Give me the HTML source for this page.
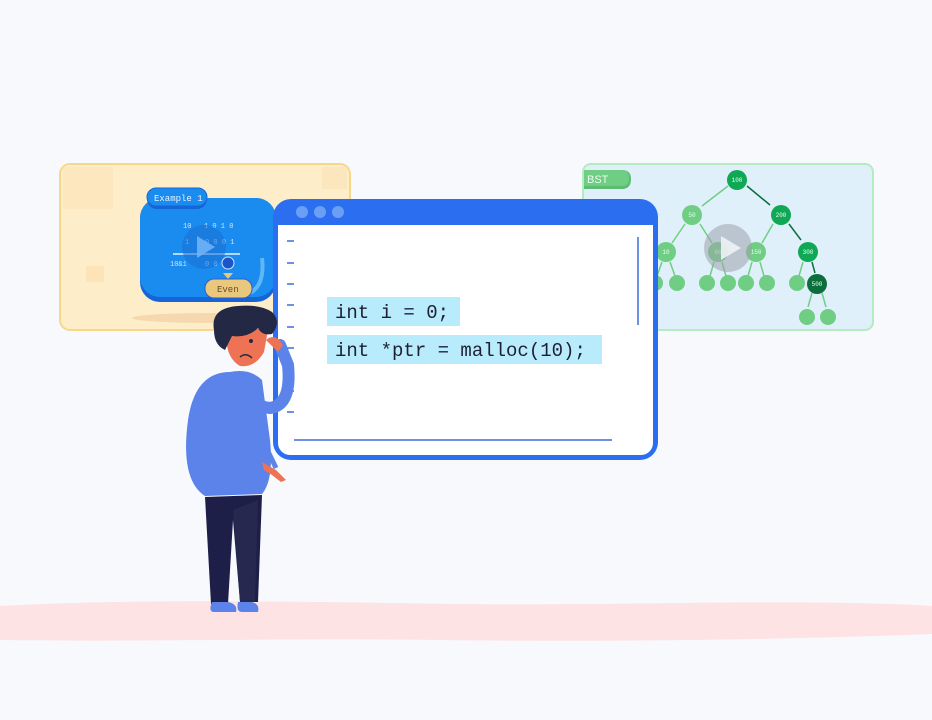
<!DOCTYPE html>
<html><head><style>
html,body{margin:0;padding:0;background:#f7f9fd;}
svg{display:block}
</style></head><body>
<svg width="932" height="720" viewBox="0 0 932 720" xmlns="http://www.w3.org/2000/svg" font-family="Liberation Mono, monospace">
<rect width="932" height="720" fill="#f7f9fd"/>
<!-- floor -->
<path d="M0 606 C150 598 300 602 460 604 C620 606 800 598 932 606 L932 634 C780 640 600 642 440 640 C280 638 130 642 0 640 Z" fill="#fde3e3"/>

<!-- left card -->
<rect x="60" y="164" width="290" height="166" rx="10" fill="#fdeec9" stroke="#f7d88a" stroke-width="2"/>
<rect x="63" y="167" width="50" height="42" fill="#fbe3b8" opacity="0.6"/>
<rect x="86" y="266" width="18" height="16" fill="#fbe0b0" opacity="0.7"/>
<rect x="322" y="167" width="25" height="22" fill="#fbe3b8" opacity="0.7"/>
<ellipse cx="210" cy="318" rx="78" ry="5" fill="#f5d8ad"/>
<rect x="140" y="198" width="136" height="104" rx="20" fill="#1565d8"/>
<rect x="140" y="198" width="136" height="99" rx="20" fill="#1a8cf0"/>
<path d="M262 258 Q265 285 250 293" stroke="#5fb8f5" stroke-width="4" fill="none"/>
<rect x="147" y="188" width="60" height="21" rx="10" fill="#1565d8"/>
<rect x="147" y="188" width="60" height="18" rx="9" fill="#1a8cf0" stroke="#1565d8" stroke-width="1"/>
<text x="154" y="201" font-size="9" fill="#e8f2ff">Example 1</text>
<g font-size="7" fill="#cfe5ff">
<text x="183" y="228">10</text><text x="204" y="228">1 0 1 0</text>
<text x="185" y="244">1</text><text x="205" y="244">0 0 0 1</text>
<text x="170" y="266">10&amp;1</text><text x="205" y="266">0 0 0</text>
</g>
<line x1="173" y1="254" x2="240" y2="254" stroke="#e6f2ff" stroke-width="1.5"/>
<circle cx="228" cy="263" r="6" fill="#1a56c8" stroke="#cfe5ff" stroke-width="1"/>
<circle cx="204" cy="247" r="22" fill="#1a6fd0" opacity="0.55"/>
<path d="M197 236 L197 258 L215 247 Z" fill="#6fb3f7" opacity="0.9"/>
<path d="M223 273 L228 279 L233 273 Z" fill="#e9c77c"/>
<rect x="205" y="279" width="47" height="19" rx="9" fill="#e9c77c" stroke="#2a5fd0" stroke-width="1"/>
<text x="217" y="292" font-size="9" fill="#6b4a2a">Even</text>

<!-- right card -->
<rect x="583" y="164" width="290" height="166" rx="8" fill="#dff0fb" stroke="#b5ebc0" stroke-width="2"/>
<path d="M584 170 L622 170 Q631 170 631 179 Q631 189 622 189 L584 189 Z" fill="#5cbc72"/>
<path d="M584 170 L622 170 Q629 170 629 178 Q629 186 622 186 L584 186 Z" fill="#6fce83"/>
<text x="587" y="183" font-size="11" font-family="Liberation Sans, sans-serif" fill="#eaffef">BST</text>
<g stroke="#6fce83" stroke-width="1.5" fill="none">
<line x1="728" y1="186" x2="702" y2="206"/>
<line x1="685" y1="224" x2="672" y2="243"/><line x1="700" y1="224" x2="712" y2="243"/>
<line x1="773" y1="224" x2="762" y2="243"/>
<line x1="662" y1="262" x2="657" y2="276"/><line x1="670" y1="262" x2="675" y2="276"/>
<line x1="714" y1="262" x2="710" y2="276"/><line x1="722" y1="262" x2="726" y2="276"/>
<line x1="752" y1="262" x2="748" y2="276"/><line x1="760" y1="262" x2="764" y2="276"/>
<line x1="803" y1="262" x2="799" y2="276"/>
<line x1="812" y1="293" x2="808" y2="307"/><line x1="822" y1="293" x2="826" y2="307"/>
</g>
<g stroke="#0c6e3a" stroke-width="1.5">
<line x1="747" y1="186" x2="770" y2="205"/><line x1="789" y1="224" x2="801" y2="240"/><line x1="812" y1="262" x2="815" y2="273"/>
</g>
<g fill="#6fce83">
<circle cx="692" cy="215" r="10"/><circle cx="666" cy="252" r="10"/><circle cx="718" cy="252" r="10"/><circle cx="756" cy="252" r="10"/>
<circle cx="655" cy="283" r="8"/><circle cx="677" cy="283" r="8"/><circle cx="707" cy="283" r="8"/><circle cx="728" cy="283" r="8"/>
<circle cx="746" cy="283" r="8"/><circle cx="767" cy="283" r="8"/><circle cx="797" cy="283" r="8"/>
<circle cx="807" cy="317" r="8"/><circle cx="828" cy="317" r="8"/>
</g>
<g fill="#0fa854"><circle cx="737" cy="180" r="10"/><circle cx="781" cy="215" r="10"/><circle cx="808" cy="252" r="10"/></g>
<circle cx="817" cy="284" r="10" fill="#0c6e3a"/>
<g font-size="6" fill="#e6fff0" text-anchor="middle">
<text x="737" y="182">100</text><text x="692" y="217">50</text><text x="781" y="217">200</text>
<text x="666" y="254">10</text><text x="718" y="254">60</text><text x="756" y="254">150</text><text x="808" y="254">300</text><text x="817" y="286">500</text>
</g>
<circle cx="728" cy="248" r="24" fill="#9aa3ab" opacity="0.55"/>
<path d="M721 236 L721 260 L741 248 Z" fill="#eef2f5" opacity="0.9"/>

<!-- main window -->
<rect x="273" y="199" width="385" height="261" rx="18" fill="#2b6ff0"/>
<rect x="278" y="225" width="375" height="230" rx="12" fill="#ffffff"/>
<rect x="278" y="225" width="375" height="12" fill="#ffffff"/>
<circle cx="302" cy="212" r="6" fill="#6b9ff6"/><circle cx="320" cy="212" r="6" fill="#6b9ff6"/><circle cx="338" cy="212" r="6" fill="#6b9ff6"/>
<g stroke="#3a6fd8" stroke-width="1.5">
<line x1="287" y1="241" x2="294" y2="241"/><line x1="287" y1="263" x2="294" y2="263"/><line x1="287" y1="284" x2="294" y2="284"/>
<line x1="287" y1="305" x2="294" y2="305"/><line x1="287" y1="327" x2="294" y2="327"/><line x1="287" y1="348" x2="294" y2="348"/>
<line x1="287" y1="370" x2="294" y2="370"/><line x1="287" y1="391" x2="294" y2="391"/><line x1="287" y1="412" x2="294" y2="412"/>
<line x1="638" y1="237" x2="638" y2="325"/>
<line x1="294" y1="440" x2="612" y2="440"/>
</g>
<rect x="327" y="297" width="133" height="29" fill="#b8ecfc"/>
<rect x="327" y="335" width="275" height="29" fill="#b8ecfc"/>
<text x="335" y="318" font-size="19" fill="#1e2030">int i = 0;</text>
<text x="335" y="356" font-size="19" fill="#1e2030">int *ptr = malloc(10);</text>

<!-- person -->
<path d="M205 497 L262 495 L258 602 L240 602 L233 520 L228 604 L211 604 Z" fill="#1e1f48"/>
<path d="M233 510 L258 500 L255 602 L240 602 Z" fill="#262850"/>
<path d="M212 602 Q208 612 214 612 L236 612 Q238 604 228 602 Z" fill="#5b83ea"/>
<path d="M238 602 Q236 612 242 612 L258 612 Q260 604 252 602 Z" fill="#5b83ea"/>
<path d="M230 372 Q195 372 188 420 Q180 480 205 496 L262 494 Q274 480 270 440 L262 380 Q250 368 230 372 Z" fill="#5b83ea"/>
<path d="M262 462 L276 470 L286 480 L281 482 L272 475 L264 470 Z" fill="#ee7355"/>
<path d="M262 440 Q270 455 276 468" stroke="#5b83ea" stroke-width="5" fill="none"/>
<path d="M228 325 Q222 355 240 366 Q255 368 264 352 L268 330 Z" fill="#ee7355"/>
<path d="M232 382 Q245 405 270 408 Q292 405 288 365 L280 345" stroke="#5b83ea" stroke-width="12" fill="none" stroke-linecap="round"/>
<path d="M266 340 Q275 332 283 345 L278 352 Z" fill="#ee7355"/>
<path d="M214 330 Q210 308 238 306 Q260 304 272 312 Q282 322 272 334 Q262 336 258 328 Q248 338 232 336 L225 350 Q214 345 214 330 Z" fill="#232845"/>
<circle cx="251" cy="341" r="2" fill="#232845"/>
<path d="M240 357 Q246 352 252 358" stroke="#232845" stroke-width="1.5" fill="none"/>
</svg>
</body></html>
